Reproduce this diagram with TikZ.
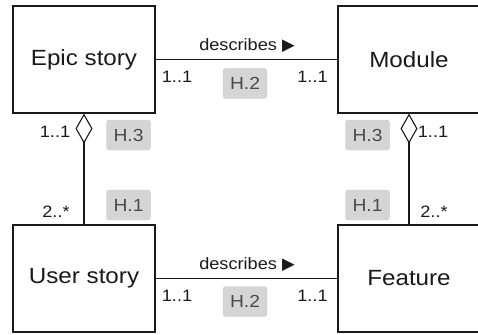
\documentclass[tikz,border=0pt]{standalone}
\usepackage{fontspec}
\setmainfont{Liberation Sans}[FakeStretch=1.1]
\newfontfamily\symfont{DejaVu Sans}
\usetikzlibrary{arrows.meta}
\definecolor{ink}{HTML}{1A1A1A}
\definecolor{tagfill}{HTML}{D5D5D5}
\definecolor{tagline}{HTML}{C6C6C6}
\definecolor{tagtext}{HTML}{4A4A4A}
\begin{document}
\begin{tikzpicture}[x=1pt,y=-1pt,
  entity/.style={draw=ink, line width=1.2pt, fill=white, minimum width=142pt,
    minimum height=107pt, inner sep=0pt, font=\fontsize{22}{26}\selectfont, text=ink},
  assoc/.style={draw=ink, line width=1.1pt},
  mult/.style={font=\fontsize{16.5}{19}\selectfont, text=ink, inner sep=0pt, anchor=base},
  tag/.style={draw=tagline, fill=tagfill, rounded corners=3pt, minimum width=44pt,
    minimum height=30pt, inner sep=0pt, text=tagtext, font=\fontsize{17.5}{20}\selectfont},
]
\useasboundingbox (0,0) rectangle (478,334);
\clip (0,0) rectangle (478,334);

% classes
\node[entity] (epic)    at (84,59.5)   {\raisebox{-2pt}{Epic story}};
\node[entity] (module)  at (409,59.5)  {\raisebox{-2pt}{Module}};
\node[entity] (user)    at (84,278.5)  {\raisebox{-2pt}{User story}};
\node[entity] (feature) at (409,278.5) {\raisebox{-2pt}{Feature}};

% associations
\draw[assoc] (epic.east) -- (module.west);
\draw[assoc] (user.east) -- (feature.west);
\draw[assoc, {Diamond[open, length=30pt, width=17pt]}-] (epic.south) -- (user.north);
\draw[assoc, {Diamond[open, length=30pt, width=17pt]}-] (module.south) -- (feature.north);

% top association labels
\node[mult] (d1) at (247,51) {describes {\symfont ▶}};
\node[mult] (m1) at (177,83) {1..1};
\node[mult] (m2) at (312.5,83) {1..1};
\node[tag] (h2a) at (245,83.5) {H.2};

% aggregation labels
\node[mult] (m3) at (55,137) {1..1};
\node[tag] (h3a) at (128.5,135) {H.3};
\node[tag] (h3b) at (367.5,135) {H.3};
\node[mult] (m4) at (433,137) {1..1};
\node[mult] (m5) at (56,217) {2..*};
\node[tag] (h1a) at (128.5,205) {H.1};
\node[tag] (h1b) at (367.5,205) {H.1};
\node[mult] (m6) at (434,217) {2..*};

% bottom association labels
\node[mult] (d2) at (247,269) {describes {\symfont ▶}};
\node[mult] (m7) at (177,301) {1..1};
\node[mult] (m8) at (312.5,301) {1..1};
\node[tag] (h2b) at (245,301.5) {H.2};
\end{tikzpicture}
\end{document}
